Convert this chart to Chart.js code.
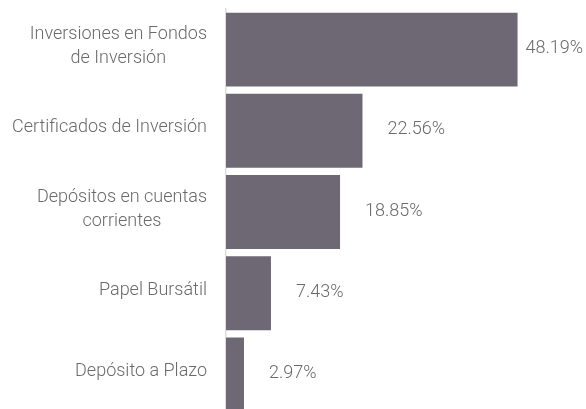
<!DOCTYPE html>
<html><head><meta charset="utf-8">
<script src="https://cdn.jsdelivr.net/npm/chart.js@4"></script>
<style>
html,body{margin:0;padding:0;overflow:hidden;background:#fff;}
#wrap{width:586px;height:420px;position:relative;}
</style></head>
<body><div id="wrap"><canvas id="c"></canvas></div>
<script>
const categories = [["Inversiones en Fondos","de Inversión"],"Certificados de Inversión",["Depósitos en cuentas","corrientes"],"Papel Bursátil","Depósito a Plazo"];
const values = [48.19, 22.56, 18.85, 7.43, 2.97];
const valueLabels = ["48.19%","22.56%","18.85%","7.43%","2.97%"];

const FONT = "Roboto";
const TEXT = "#6a6a6a";

const labelPlugin = {
  id: 'customLabels',
  afterDatasetsDraw(chart){
    const ctx = chart.ctx;
    const meta = chart.getDatasetMeta(0);
    const yScale = chart.scales.y;
    ctx.save();
    ctx.font = "300 18px " + FONT;
    ctx.fillStyle = TEXT;
    ctx.textBaseline = 'middle';
    categories.forEach((cat, i) => {
      const lines = Array.isArray(cat) ? cat : [cat];
      const y = yScale.getPixelForTick(i);
      const lh = 24;
      const widths = lines.map(l => ctx.measureText(l).width);
      const maxW = Math.max(...widths);
      const right = chart.chartArea.left - 19;
      lines.forEach((l, j) => {
        const ly = y + (j - (lines.length - 1) / 2) * lh - 3;
        ctx.textAlign = 'center';
        ctx.fillText(l, right - maxW / 2, ly);
      });
    });
    meta.data.forEach((bar, i) => {
      const t = valueLabels[i];
      const w = ctx.measureText(t).width;
      let x = bar.x + 25;
      if (x + w > chart.width - 3) x = chart.width - 3 - w;
      ctx.textAlign = 'left';
      ctx.fillText(t, x, bar.y - 1);
    });
    ctx.restore();
  }
};

new Chart(document.getElementById('c'), {
  type: 'bar',
  data: {
    labels: categories,
    datasets: [{
      data: values,
      backgroundColor: '#6e6874',
      borderWidth: 0,
      barPercentage: 0.91,
      categoryPercentage: 1
    }]
  },
  options: {
    indexAxis: 'y',
    responsive: true,
    maintainAspectRatio: false,
    animation: false,
    layout: { padding: { top: 9, bottom: 5, left: 0, right: 57.5 } },
    plugins: { legend: { display: false }, tooltip: { enabled: false } },
    scales: {
      x: { display: false, min: 0, max: 50 },
      y: {
        afterFit(scale){ scale.width = 226; },
        grid: { display: false },
        border: { display: true, color: '#dddddd', width: 1.5 },
        ticks: { display: false }
      }
    }
  },
  plugins: [labelPlugin]
});
</script>
</body></html>
